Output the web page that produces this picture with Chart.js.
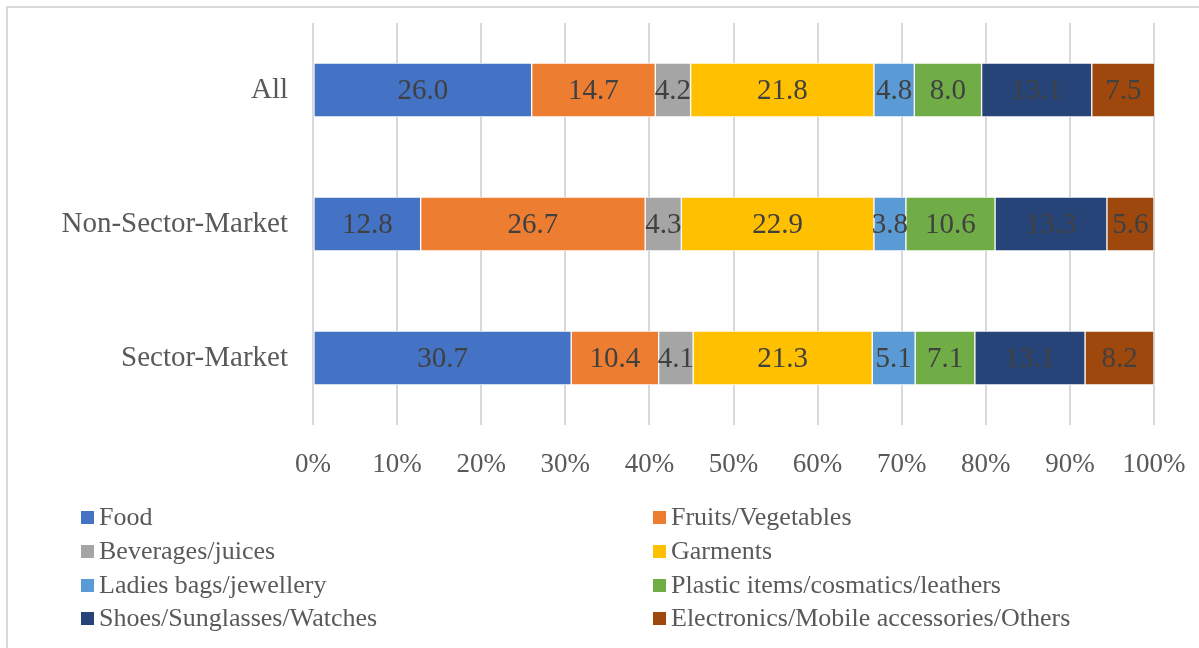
<!DOCTYPE html>
<html>
<head>
<meta charset="utf-8">
<script src="https://cdn.jsdelivr.net/npm/chart.js@4.4.0/dist/chart.umd.min.js"></script>
<style>
  html, body { margin: 0; padding: 0; background: #fff; overflow: hidden; }
  #wrap { position: relative; width: 1199px; height: 648px; }
  #frame { position: absolute; left: 6px; top: 6px; width: 1300px; height: 800px;
           border-left: 2px solid #d9d9d9; border-top: 2px solid #d9d9d9; pointer-events: none; }
  canvas { position: absolute; left: 0; top: 0; }
</style>
</head>
<body>
<div id="wrap">
  <canvas id="marketChart" width="1199" height="648"></canvas>
  <div id="frame"></div>
</div>
<script>
// categories (top to bottom)
const categories = ['All', 'Non-Sector-Market', 'Sector-Market'];

// series
const seriesNames = [
    'Food', 'Fruits/Vegetables', 'Beverages/juices', 'Garments',
    'Ladies bags/jewellery', 'Plastic items/cosmatics/leathers',
    'Shoes/Sunglasses/Watches', 'Electronics/Mobile accessories/Others'
];
const seriesColors = ['#4472C4', '#ED7D31', '#A5A5A5', '#FFC000', '#5B9BD5', '#70AD47', '#264478', '#9E480E'];

const food        = [26.0, 12.8, 30.7];
const fruits      = [14.7, 26.7, 10.4];
const beverages   = [4.2, 4.3, 4.1];
const garments    = [21.8, 22.9, 21.3];
const ladiesBags  = [4.8, 3.8, 5.1];
const plastic     = [8.0, 10.6, 7.1];
const shoes       = [13.1, 13.3, 13.1];
const electronics = [7.5, 5.6, 8.2];

const seriesValues = [food, fruits, beverages, garments, ladiesBags, plastic, shoes, electronics];

const FONT = '"Liberation Serif", "Times New Roman", serif';

// labels in the middle of each segment
const segmentLabels = {
    id: 'segmentLabels',
    afterDatasetsDraw(chart) {
        const ctx = chart.ctx;
        ctx.save();
        ctx.font = '29px ' + FONT;
        ctx.fillStyle = '#404040';
        ctx.textAlign = 'center';
        ctx.textBaseline = 'middle';
        chart.data.datasets.forEach((ds, i) => {
            chart.getDatasetMeta(i).data.forEach((bar, j) => {
                const x = (bar.x + bar.base) / 2;
                ctx.fillText(ds.data[j].toFixed(1), x, bar.y + 1);
            });
        });
        ctx.restore();
    }
};

// two-column legend under the axis
const twoColLegend = {
    id: 'twoColLegend',
    afterDraw(chart) {
        const ctx = chart.ctx;
        const colX = [81, 653];
        const rowY = [517, 551, 585, 618];
        ctx.save();
        ctx.font = '26px ' + FONT;
        ctx.textBaseline = 'middle';
        chart.data.datasets.forEach((ds, i) => {
            const x = colX[i % 2];
            const y = rowY[Math.floor(i / 2)];
            ctx.fillStyle = ds.backgroundColor;
            ctx.fillRect(x, y - 6, 13, 13);
            ctx.fillStyle = '#595959';
            ctx.fillText(ds.label, x + 18, y + 1);
        });
        ctx.restore();
    }
};

const ctx = document.getElementById('marketChart').getContext('2d');
const marketChart = new Chart(ctx, {
    type: 'bar',
    data: {
        labels: categories,
        datasets: seriesNames.map((name, i) => ({
            label: name,
            data: seriesValues[i],
            backgroundColor: seriesColors[i],
            borderColor: 'rgba(255,255,255,0.85)',
            borderWidth: 1,
            borderSkipped: false,
            barThickness: 54
        }))
    },
    options: {
        indexAxis: 'y',
        responsive: false,
        animation: false,
        layout: { padding: { top: 23, right: 45, left: 0, bottom: 0 } },
        scales: {
            x: {
                stacked: true,
                min: 0,
                max: 100,
                grid: { color: '#d9d9d9', lineWidth: 2, drawTicks: false },
                border: { display: false },
                ticks: {
                    stepSize: 10,
                    padding: 24,
                    color: '#595959',
                    font: { family: FONT, size: 27 },
                    callback: v => v + '%'
                },
                afterFit(scale) {
                    scale.height = 223;
                    scale.paddingLeft = 0;
                    scale.paddingRight = 0;
                }
            },
            y: {
                stacked: true,
                grid: { display: false, drawTicks: false },
                border: { display: false },
                ticks: {
                    padding: 25,
                    color: '#595959',
                    font: { family: FONT, size: 29 }
                },
                afterFit(scale) {
                    scale.width = 313;
                    scale.paddingTop = 0;
                    scale.paddingBottom = 0;
                }
            }
        },
        plugins: {
            legend: { display: false },
            tooltip: { enabled: false }
        }
    },
    plugins: [segmentLabels, twoColLegend]
});
</script>
</body>
</html>
